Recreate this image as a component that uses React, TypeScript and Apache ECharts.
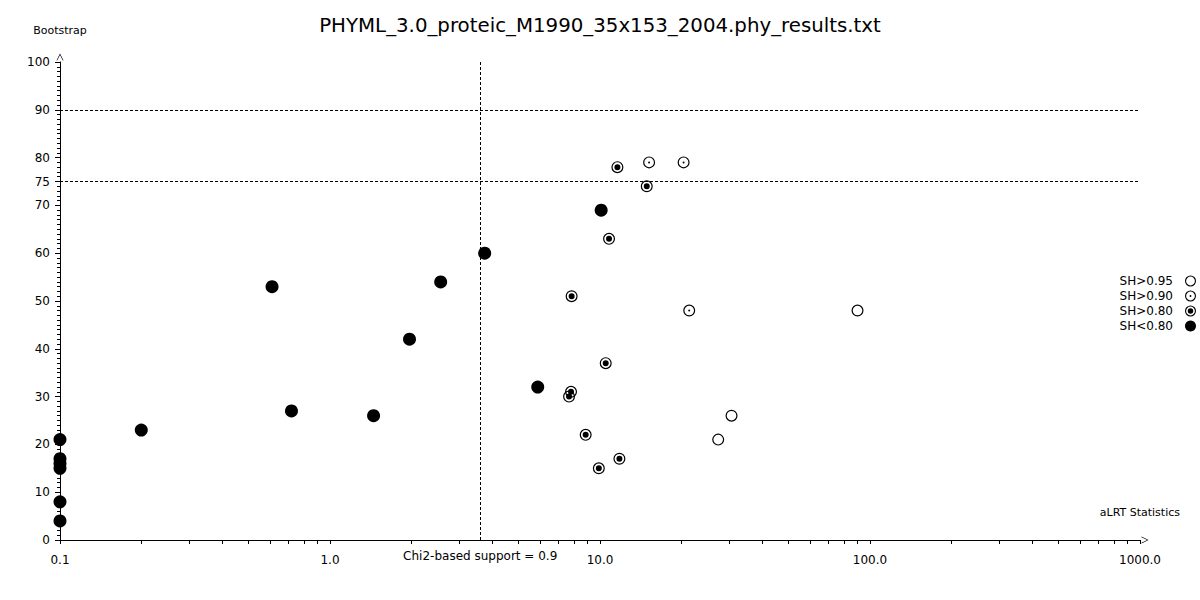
import React, { useEffect, useRef } from "react";
import * as echarts from "echarts";

const titleText = "PHYML_3.0_proteic_M1990_35x153_2004.phy_results.txt";
const legendNames = ["SH>0.95", "SH>0.90", "SH>0.80", "SH<0.80"];

// aLRT statistic (x) and bootstrap (y) per SH class
const sh95X = [89.9, 30.7, 27.4];
const sh95Y = [48, 26, 21];
const sh90X = [15.2, 20.4, 21.4];
const sh90Y = [79, 79, 48];
const sh80X = [11.6, 14.9, 10.8, 7.85, 10.5, 7.81, 7.68, 8.85, 11.8, 9.9];
const sh80Y = [78, 74, 63, 51, 37, 31, 30, 22, 17, 15];
const shLowX = [0.1, 0.1, 0.1, 0.1, 0.1, 0.1, 0.2, 0.61, 0.72, 1.45, 1.97, 2.57, 3.74, 5.88, 10.1];
const shLowY = [21, 17, 16, 15, 8, 4, 23, 53, 27, 26, 42, 54, 60, 32, 69];

const yLabelValues = [0, 10, 20, 30, 40, 50, 60, 70, 75, 80, 90, 100];
const bootstrapThresholds = [75, 90];
const chi2Support = 3.6;
const chi2Label = "Chi2-based support = 0.9";

const FONT = "DejaVu Sans";

const ringPath =
  "M12 0A12 12 0 1 1 12 24A12 12 0 1 1 12 0Z" +
  "M12 2.4A9.6 9.6 0 1 0 12 21.6A9.6 9.6 0 1 0 12 2.4Z";
const smallDot = "M12 10A2 2 0 1 1 12 14A2 2 0 1 1 12 10Z";
const bigDot = "M12 6A6 6 0 1 1 12 18A6 6 0 1 1 12 6Z";
const arrowPath = "path://M0 10L5 0L10 10L9 10L5 2L1 10Z";

const zip = (xs: number[], ys: number[]) => xs.map((x, i) => [x, ys[i]]);

export default function App() {
  const ref = useRef<HTMLDivElement>(null);
  useEffect(() => {
    const chart = echarts.init(ref.current!, null, { renderer: "svg" });
    const baseSeries = {
      type: "scatter",
      itemStyle: { color: "#000", opacity: 1 },
      emphasis: { disabled: true },
      silent: true,
    };
    chart.setOption({
      animation: false,
      backgroundColor: "#fff",
      title: {
        text: titleText,
        left: "center",
        top: 10,
        textStyle: { fontFamily: FONT, fontSize: 19.8, fontWeight: "normal", color: "#000" },
      },
      legend: {
        orient: "vertical",
        right: 4,
        top: 275,
        padding: 0,
        align: "right",
        itemWidth: 11,
        itemHeight: 11,
        itemGap: 3,
        selectedMode: false,
        textStyle: { fontFamily: FONT, fontSize: 12, color: "#000", padding: [0, 7, 0, 0] },
        data: legendNames,
      },
      grid: { left: 60, right: 60, top: 62, bottom: 60 },
      xAxis: {
        type: "log",
        logBase: 10,
        min: 0.1,
        max: 1000,
        name: "aLRT Statistics",
        nameLocation: "end",
        nameGap: 40,
        nameTextStyle: {
          fontFamily: FONT,
          fontSize: 11,
          color: "#000",
          align: "right",
          verticalAlign: "bottom",
          padding: [0, 0, 22, 0],
        },
        axisLine: {
          show: true,
          symbol: ["none", arrowPath],
          symbolSize: [9, 7],
          symbolOffset: [0, 5],
          lineStyle: { color: "#000", width: 1 },
        },
        axisTick: { show: true, length: 4, lineStyle: { color: "#000" } },
        minorTick: { show: true, splitNumber: 9, length: 4, lineStyle: { color: "#000" } },
        splitLine: { show: false },
        minorSplitLine: { show: false },
        axisLabel: {
          margin: 14,
          fontFamily: FONT,
          fontSize: 12,
          color: "#000",
          formatter: (v: number) => v.toFixed(1),
        },
      },
      yAxis: {
        type: "value",
        min: 0,
        max: 100,
        interval: 10,
        name: "Bootstrap",
        nameLocation: "end",
        nameGap: 26,
        nameTextStyle: { fontFamily: FONT, fontSize: 11, color: "#000" },
        axisLine: {
          show: true,
          symbol: ["none", arrowPath],
          symbolSize: [9, 7],
          symbolOffset: [0, 5],
          lineStyle: { color: "#000", width: 1 },
        },
        axisTick: { show: true, length: 5, customValues: yLabelValues, lineStyle: { color: "#000" } },
        minorTick: { show: true, splitNumber: 10, length: 3, lineStyle: { color: "#000" } },
        splitLine: { show: false },
        axisLabel: {
          customValues: yLabelValues,
          margin: 10,
          fontFamily: FONT,
          fontSize: 12,
          color: "#000",
        },
      },
      series: [
        {
          ...baseSeries,
          name: legendNames[0],
          symbol: "path://" + ringPath,
          symbolSize: 12,
          data: zip(sh95X, sh95Y),
        },
        {
          ...baseSeries,
          name: legendNames[1],
          symbol: "path://" + ringPath + smallDot,
          symbolSize: 12,
          data: zip(sh90X, sh90Y),
        },
        {
          ...baseSeries,
          name: legendNames[2],
          symbol: "path://" + ringPath + bigDot,
          symbolSize: 12,
          data: zip(sh80X, sh80Y),
        },
        {
          ...baseSeries,
          name: legendNames[3],
          symbol: "circle",
          symbolSize: 13,
          data: zip(shLowX, shLowY),
          markLine: {
            silent: true,
            symbol: ["none", "none"],
            lineStyle: { color: "#000", type: [3, 2], width: 1 },
            label: { show: false },
            emphasis: { disabled: true },
            data: [
              ...bootstrapThresholds.map((v) => ({ yAxis: v })),
              {
                xAxis: chi2Support,
                label: {
                  show: true,
                  position: "start",
                  formatter: chi2Label,
                  distance: 10,
                  fontFamily: FONT,
                  fontSize: 12,
                  color: "#000",
                },
              },
            ],
          },
        },
      ],
    });
    return () => chart.dispose();
  }, []);
  return <div ref={ref} style={{ position: "fixed", left: 0, top: 0, width: 1200, height: 600 }} />;
}
